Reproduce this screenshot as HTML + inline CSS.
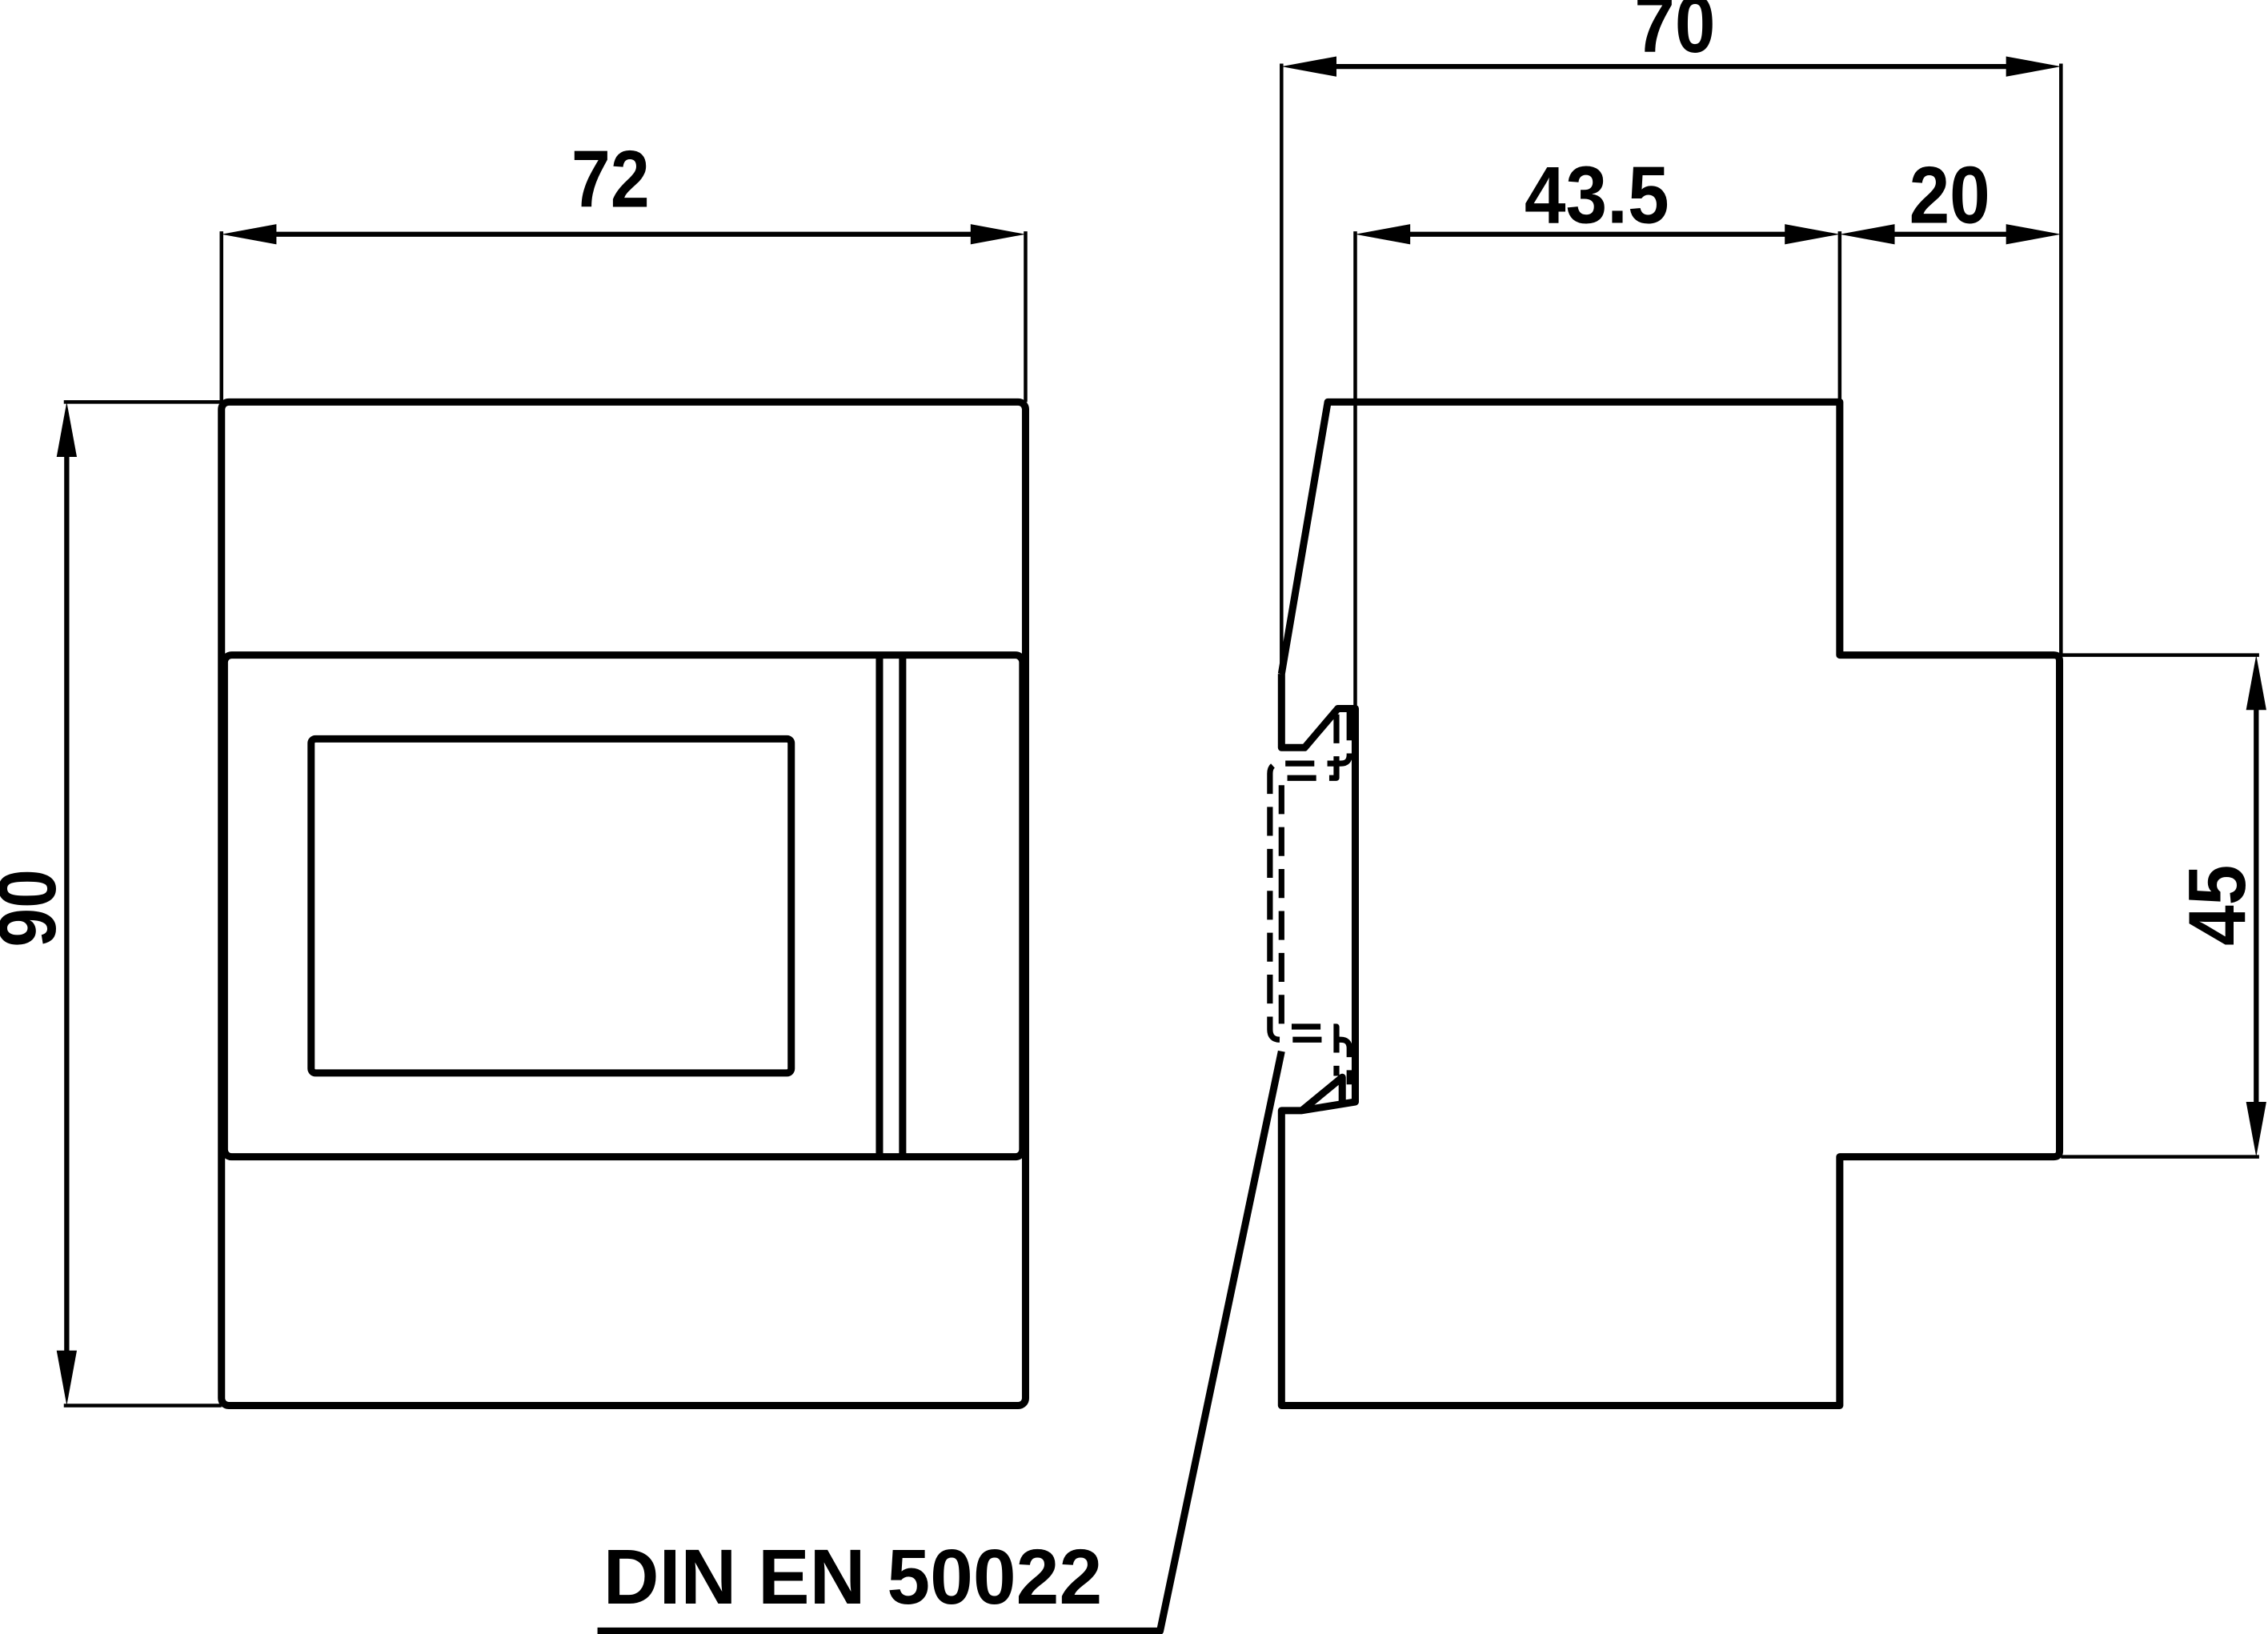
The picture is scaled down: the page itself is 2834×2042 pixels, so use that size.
<!DOCTYPE html>
<html><head><meta charset="utf-8"><style>
html,body{margin:0;padding:0;background:#fff}
svg{display:block}
text{font-family:"Liberation Sans",Arial,sans-serif;font-weight:bold;fill:#000}
</style></head><body>
<svg width="2834" height="2042" viewBox="0 0 1568 1130" xmlns="http://www.w3.org/2000/svg">
<g fill="none" stroke="#000" stroke-linejoin="round">
<g stroke-width="2.5">
<line x1="153" y1="160" x2="153" y2="278"/>
<line x1="709" y1="160" x2="709" y2="278"/>
<line x1="44" y1="278" x2="153" y2="278"/>
<line x1="44" y1="972" x2="153" y2="972"/>
<line x1="886" y1="44" x2="886" y2="466"/>
<line x1="1425" y1="44" x2="1425" y2="453"/>
<line x1="937" y1="160" x2="937" y2="490"/>
<line x1="1272" y1="160" x2="1272" y2="278"/>
<line x1="1425" y1="453" x2="1562" y2="453"/>
<line x1="1425" y1="800" x2="1562" y2="800"/>
</g>
<g stroke-width="3.5">
<line x1="185" y1="162" x2="677" y2="162"/>
<line x1="46" y1="310" x2="46" y2="940"/>
<line x1="918" y1="46" x2="1393" y2="46"/>
<line x1="969" y1="162" x2="1240" y2="162"/>
<line x1="1304" y1="162" x2="1393" y2="162"/>
<line x1="1560" y1="485" x2="1560" y2="768"/>
</g>
<g stroke-width="5">
<rect x="153" y="278" width="556" height="694" rx="5"/>
<rect x="155" y="453" width="552" height="347" rx="5"/>
<rect x="215" y="511" width="332" height="231" rx="3"/>
<line x1="608" y1="453" x2="608" y2="800"/>
<line x1="624" y1="453" x2="624" y2="800"/>
<path d="M886,466 L918,278 L1272,278 L1272,453 L1420,453 Q1424,453 1424,457 L1424,796 Q1424,800 1420,800 L1272,800 L1272,972 L886,972 L886,768 L900,768 L937,762 L937,490 L925,490 L902,517 L886,517 L886,466"/>
<path d="M900,768 L928,745 L928,762"/>
<path d="M413,1128 L802,1128 L886,727"/>
</g>
<g stroke-width="4" stroke-dasharray="20,9">
<path d="M933,492 L933,522 Q933,528 927,528 L885,528 Q878,528 878,535 L878,712 Q878,719 885,719 L927,719 Q933,719 933,725 L933,750"/>
</g>
<g stroke-width="4" stroke-dasharray="20,9">
<path d="M924,494 L924,538 L886,538 L886,710 L924,710 L924,744"/>
</g>
</g>
<g fill="#000">
<polygon points="153,162 191,155 191,169"/>
<polygon points="709,162 671,155 671,169"/>
<polygon points="46,278 39,316 53,316"/>
<polygon points="46,972 39,934 53,934"/>
<polygon points="886,46 924,39 924,53"/>
<polygon points="1425,46 1387,39 1387,53"/>
<polygon points="937,162 975,155 975,169"/>
<polygon points="1272,162 1234,155 1234,169"/>
<polygon points="1272,162 1310,155 1310,169"/>
<polygon points="1425,162 1387,155 1387,169"/>
<polygon points="1560,453 1553,491 1567,491"/>
<polygon points="1560,800 1553,762 1567,762"/>
</g>
<text x="422" y="143" font-size="56" text-anchor="middle" textLength="54" lengthAdjust="spacingAndGlyphs">72</text>
<text x="1158" y="36" font-size="56" text-anchor="middle" textLength="56" lengthAdjust="spacingAndGlyphs">70</text>
<text x="1104" y="154" font-size="56" text-anchor="middle" textLength="100" lengthAdjust="spacingAndGlyphs">43.5</text>
<text x="1348" y="154" font-size="56" text-anchor="middle" textLength="56" lengthAdjust="spacingAndGlyphs">20</text>
<text transform="translate(38,628) rotate(-90)" font-size="56" text-anchor="middle" textLength="54" lengthAdjust="spacingAndGlyphs">90</text>
<text transform="translate(1552,626) rotate(-90)" font-size="56" text-anchor="middle" textLength="56" lengthAdjust="spacingAndGlyphs">45</text>
<text x="417" y="1109" font-size="54" textLength="345" lengthAdjust="spacingAndGlyphs">DIN EN 50022</text>
</svg>
</body></html>
